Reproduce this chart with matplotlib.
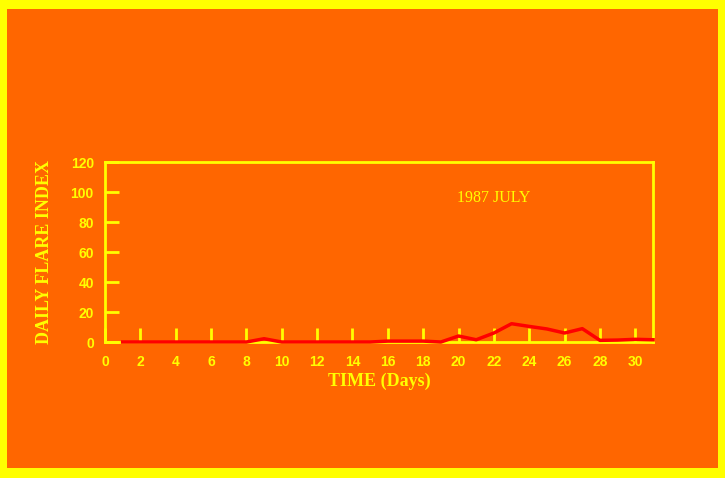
import matplotlib
matplotlib.use("Agg")
import matplotlib.pyplot as plt
from matplotlib.patches import Rectangle

# daily flare index, 1987 July
days = list(range(1, 32))
flare_index = [0, 0, 0, 0, 0, 0, 0, 0, 2.2, 0,
               0, 0, 0, 0, 0, 0.6, 0.6, 0.6, 0, 4.0,
               1.5, 6.0, 12.2, 10.4, 8.7, 6.0, 8.9, 1.1, 1.3, 1.8,
               1.5]
xticks = list(range(0, 31, 2))
yticks = list(range(0, 121, 20))

bg = '#FF6600'
yel = '#FFFF00'

fig = plt.figure(figsize=(7.25, 4.78), dpi=100, facecolor=yel)
# orange panel inside the yellow frame
fig.patches.append(Rectangle((7 / 725, 10 / 478), 711 / 725, 459 / 478,
                             transform=fig.transFigure, facecolor=bg,
                             edgecolor='none', zorder=-10))

ax = fig.add_axes([0.1448, 0.2845, 0.7559, 0.3765])
ax.set_facecolor(bg)
ax.plot(days, flare_index, color='#FF0000', linewidth=2.5, clip_on=False, zorder=5)

ax.set_xlim(0, 31)
ax.set_ylim(0, 120)
ax.set_xticks(xticks)
ax.set_yticks(yticks)
for s in ax.spines.values():
    s.set_color(yel)
    s.set_linewidth(2)
ax.tick_params(direction='in', length=10, width=2, color=yel, labelcolor=yel,
               labelsize=10)
ax.tick_params(axis='x', pad=9)
ax.tick_params(axis='y', pad=8)
for lab in ax.get_xticklabels() + ax.get_yticklabels():
    lab.set_fontweight('bold')
    lab.set_family('Liberation Sans')

ax.set_xlabel('TIME (Days)', color=yel, fontsize=13, fontweight='bold',
              family='Liberation Serif', labelpad=3)
ax.set_ylabel('DAILY FLARE INDEX', color=yel, fontsize=13, fontweight='bold',
              family='Liberation Serif', labelpad=13)
ax.text(22, 96, '1987 JULY', color=yel, fontsize=11.5, family='Liberation Serif',
        ha='center', va='center')

fig.savefig('out.png', dpi=100, facecolor=yel)
